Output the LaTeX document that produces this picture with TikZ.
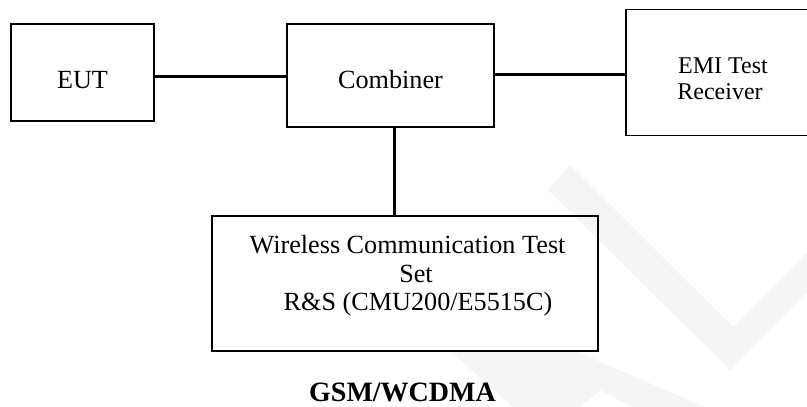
\documentclass[tikz,border=0pt]{standalone}
\usepackage{fontspec}
\setmainfont{Liberation Serif}
\begin{document}
\begin{tikzpicture}[x=1pt,y=-1pt,
  box/.style={draw,line width=1.8pt,inner sep=0pt,outer sep=0pt},
  lbl/.style={anchor=base,inner sep=0pt,font=\fontsize{26.2}{30}\selectfont},
  lblsmall/.style={anchor=base,inner sep=0pt,font=\fontsize{24}{26}\selectfont},
  conn/.style={line width=3pt},
  wm/.style={fill=gray!8,draw=none}]
\useasboundingbox (0,0) rectangle (807,407);
% watermark
\fill[wm] (548,190) -- (570,165) -- (733,327) -- (810,250) -- (810,290) -- (730,370) -- cycle;
\fill[wm] (450,351) -- (575,351) -- (705,407) -- (633,407) -- (600,390) -- (580,407) -- (513,407) -- cycle;
% boxes
\node[box,minimum width=143pt,minimum height=97pt] (eut) at (82.5,72.5) {};
\node[box,minimum width=207pt,minimum height=103pt] (comb) at (390.5,75.5) {};
\node[box,minimum width=194pt,minimum height=126pt] (emi) at (723,72.5) {};
\node[box,minimum width=386pt,minimum height=135pt] (wts) at (405,283.5) {};
% texts
\node[lbl] (teut) at (82.5,88.3) {EUT};
\node[lbl] (tcomb) at (390.5,88.3) {Combiner};
\node[lblsmall] (temi1) at (723,73) {EMI Test};
\node[lblsmall] (temi2) at (720,99) {Receiver};
\node[lbl] (tw1) at (407.5,253) {Wireless Communication Test};
\node[lbl] (tw2) at (416,282) {Set};
\node[lbl] (tw3) at (418,310) {R\&S (CMU200/E5515C)};
\node[anchor=base,inner sep=0pt,text depth=0pt,font=\fontsize{28}{30}\selectfont\bfseries] (title) at (402.5,401.5) {GSM/WCDMA};
% connectors
\draw[conn] ([yshift=-3.5pt]eut.east) -- ([yshift=-3.5pt]eut.east -| comb.west);
\draw[conn] ([yshift=1.5pt]comb.east) -- ([yshift=1.5pt]comb.east -| emi.west);
\draw[conn] ([xshift=3.5pt]comb.south) -- ([xshift=3.5pt]comb.south |- wts.north);
\end{tikzpicture}
\end{document}
